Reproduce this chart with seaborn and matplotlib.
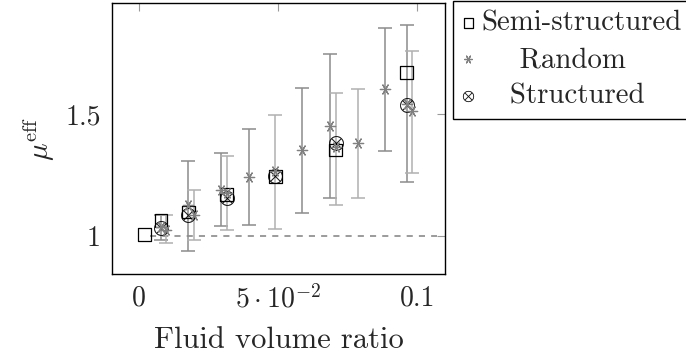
import matplotlib
matplotlib.use("Agg")
import matplotlib.pyplot as plt
import seaborn as sns
import pandas as pd

# Semi-structured packings (squares)
semi_x = [0.0019, 0.0078, 0.0176, 0.0315, 0.0490, 0.0707, 0.0962]
semi_y = [1.004, 1.064, 1.098, 1.170, 1.245, 1.352, 1.670]

# Structured packings (circled cross)
struct_x = [0.0078, 0.0176, 0.0315, 0.0490, 0.0707, 0.0962]
struct_y = [1.033, 1.085, 1.155, 1.247, 1.380, 1.537]

# Random packings (asterisks) with min / max spread
rand_x = [0.0078, 0.0098, 0.0176, 0.0198, 0.0295, 0.0315, 0.0394, 0.0490,
          0.0587, 0.0688, 0.0708, 0.0786, 0.0884, 0.0964, 0.0983]
rand_y = [1.034, 1.023, 1.126, 1.085, 1.188, 1.177, 1.240, 1.266,
          1.352, 1.452, 1.366, 1.380, 1.601, 1.540, 1.512]
rand_lo = [0.982, 0.969, 0.937, 0.982, 1.040, 1.023, 1.043, 1.029,
           1.094, 1.156, 1.126, 1.156, 1.349, 1.222, 1.259]
rand_hi = [1.085, 1.085, 1.308, 1.188, 1.339, 1.329, 1.437, 1.497,
           1.605, 1.746, 1.588, 1.601, 1.853, 1.867, 1.760]
rand_shade = ['dark', 'light', 'dark', 'light', 'dark', 'light', 'dark', 'light',
              'dark', 'dark', 'light', 'light', 'dark', 'dark', 'light']

x_ticks = [0, 0.05, 0.1]
x_ticklabels = ['0', r'$5\cdot10^{-2}$', '0.1']
y_ticks = [1, 1.5]
y_ticklabels = ['1', '1.5']

sns.set_style("white")
plt.rcParams['font.family'] = 'serif'
plt.rcParams['font.serif'] = ['cmr10']
plt.rcParams['mathtext.fontset'] = 'cm'
plt.rcParams['axes.formatter.use_mathtext'] = True

fig = plt.figure(figsize=(6.86, 3.54), dpi=100)
ax = fig.add_axes([112 / 686, 1 - 274 / 354, 333 / 686, 271 / 354])

df_rand = pd.DataFrame({'x': rand_x, 'y': rand_y, 'lo': rand_lo, 'hi': rand_hi, 'shade': rand_shade})
shade_color = {'dark': '#8c8c8c', 'light': '#b0b0b0'}

# reference line mu = 1
ax.hlines(1, 0.004, 0.107, colors='#808080', linestyles=(0, (4, 4)), linewidth=1.1, zorder=1)

for _, row in df_rand.iterrows():
    ax.errorbar(row['x'], row['y'],
                yerr=[[row['y'] - row['lo']], [row['hi'] - row['y']]],
                fmt='none', ecolor=shade_color[row['shade']], elinewidth=1.1,
                capsize=5, capthick=1.1, zorder=2)

sns.scatterplot(data=df_rand, x='x', y='y', ax=ax, marker=(6, 2, 90), s=55,
                color='#808080', edgecolor='#808080', linewidth=0.9,
                label='Random', zorder=4)
sns.scatterplot(x=semi_x, y=semi_y, ax=ax, marker='s', s=85, facecolor='none',
                edgecolor='black', linewidth=0.9, label='Semi-structured', zorder=3)
sns.scatterplot(x=struct_x, y=struct_y, ax=ax, marker=r'$\otimes$', s=110,
                color='black', edgecolor='black', linewidth=0.2,
                label='Structured', zorder=3)

ax.set_xlim(-0.0098, 0.110)
ax.set_ylim(0.843, 1.956)
ax.set_xticks(x_ticks)
ax.set_xticklabels(x_ticklabels)
ax.set_yticks(y_ticks)
ax.set_yticklabels(y_ticklabels)
ax.tick_params(direction='in', length=6, width=0.8, color='#999999', labelsize=20,
               top=True, right=True, pad=8)
for sp in ax.spines.values():
    sp.set_color('black')
    sp.set_linewidth(1.0)

ax.set_xlabel('Fluid volume ratio', fontsize=22, labelpad=9)
ax.set_ylabel(r'$\mu^{\mathrm{eff}}$', fontsize=21, va='center')
ax.yaxis.set_label_coords(-0.22, 0.5)

# legend: semi-structured, random, structured (labels centred with padding)
handles, labels = ax.get_legend_handles_labels()
order = [labels.index(l) for l in ['Semi-structured', 'Random', 'Structured']]
pad_labels = ['Semi-structured', '    Random', '   Structured']
if ax.legend_:
    ax.legend_.remove()
leg = fig.legend([handles[i] for i in order], pad_labels,
                 loc='upper left', bbox_to_anchor=(453 / 686, 1 - 1 / 354),
                 fontsize=20.8, frameon=True, fancybox=False, edgecolor='black',
                 framealpha=1, handlelength=0.4, handletextpad=0.25,
                 borderpad=0.33, labelspacing=0.34, markerscale=0.75, borderaxespad=0)
leg.get_frame().set_linewidth(1.0)

fig.savefig('out.png', dpi=100)
